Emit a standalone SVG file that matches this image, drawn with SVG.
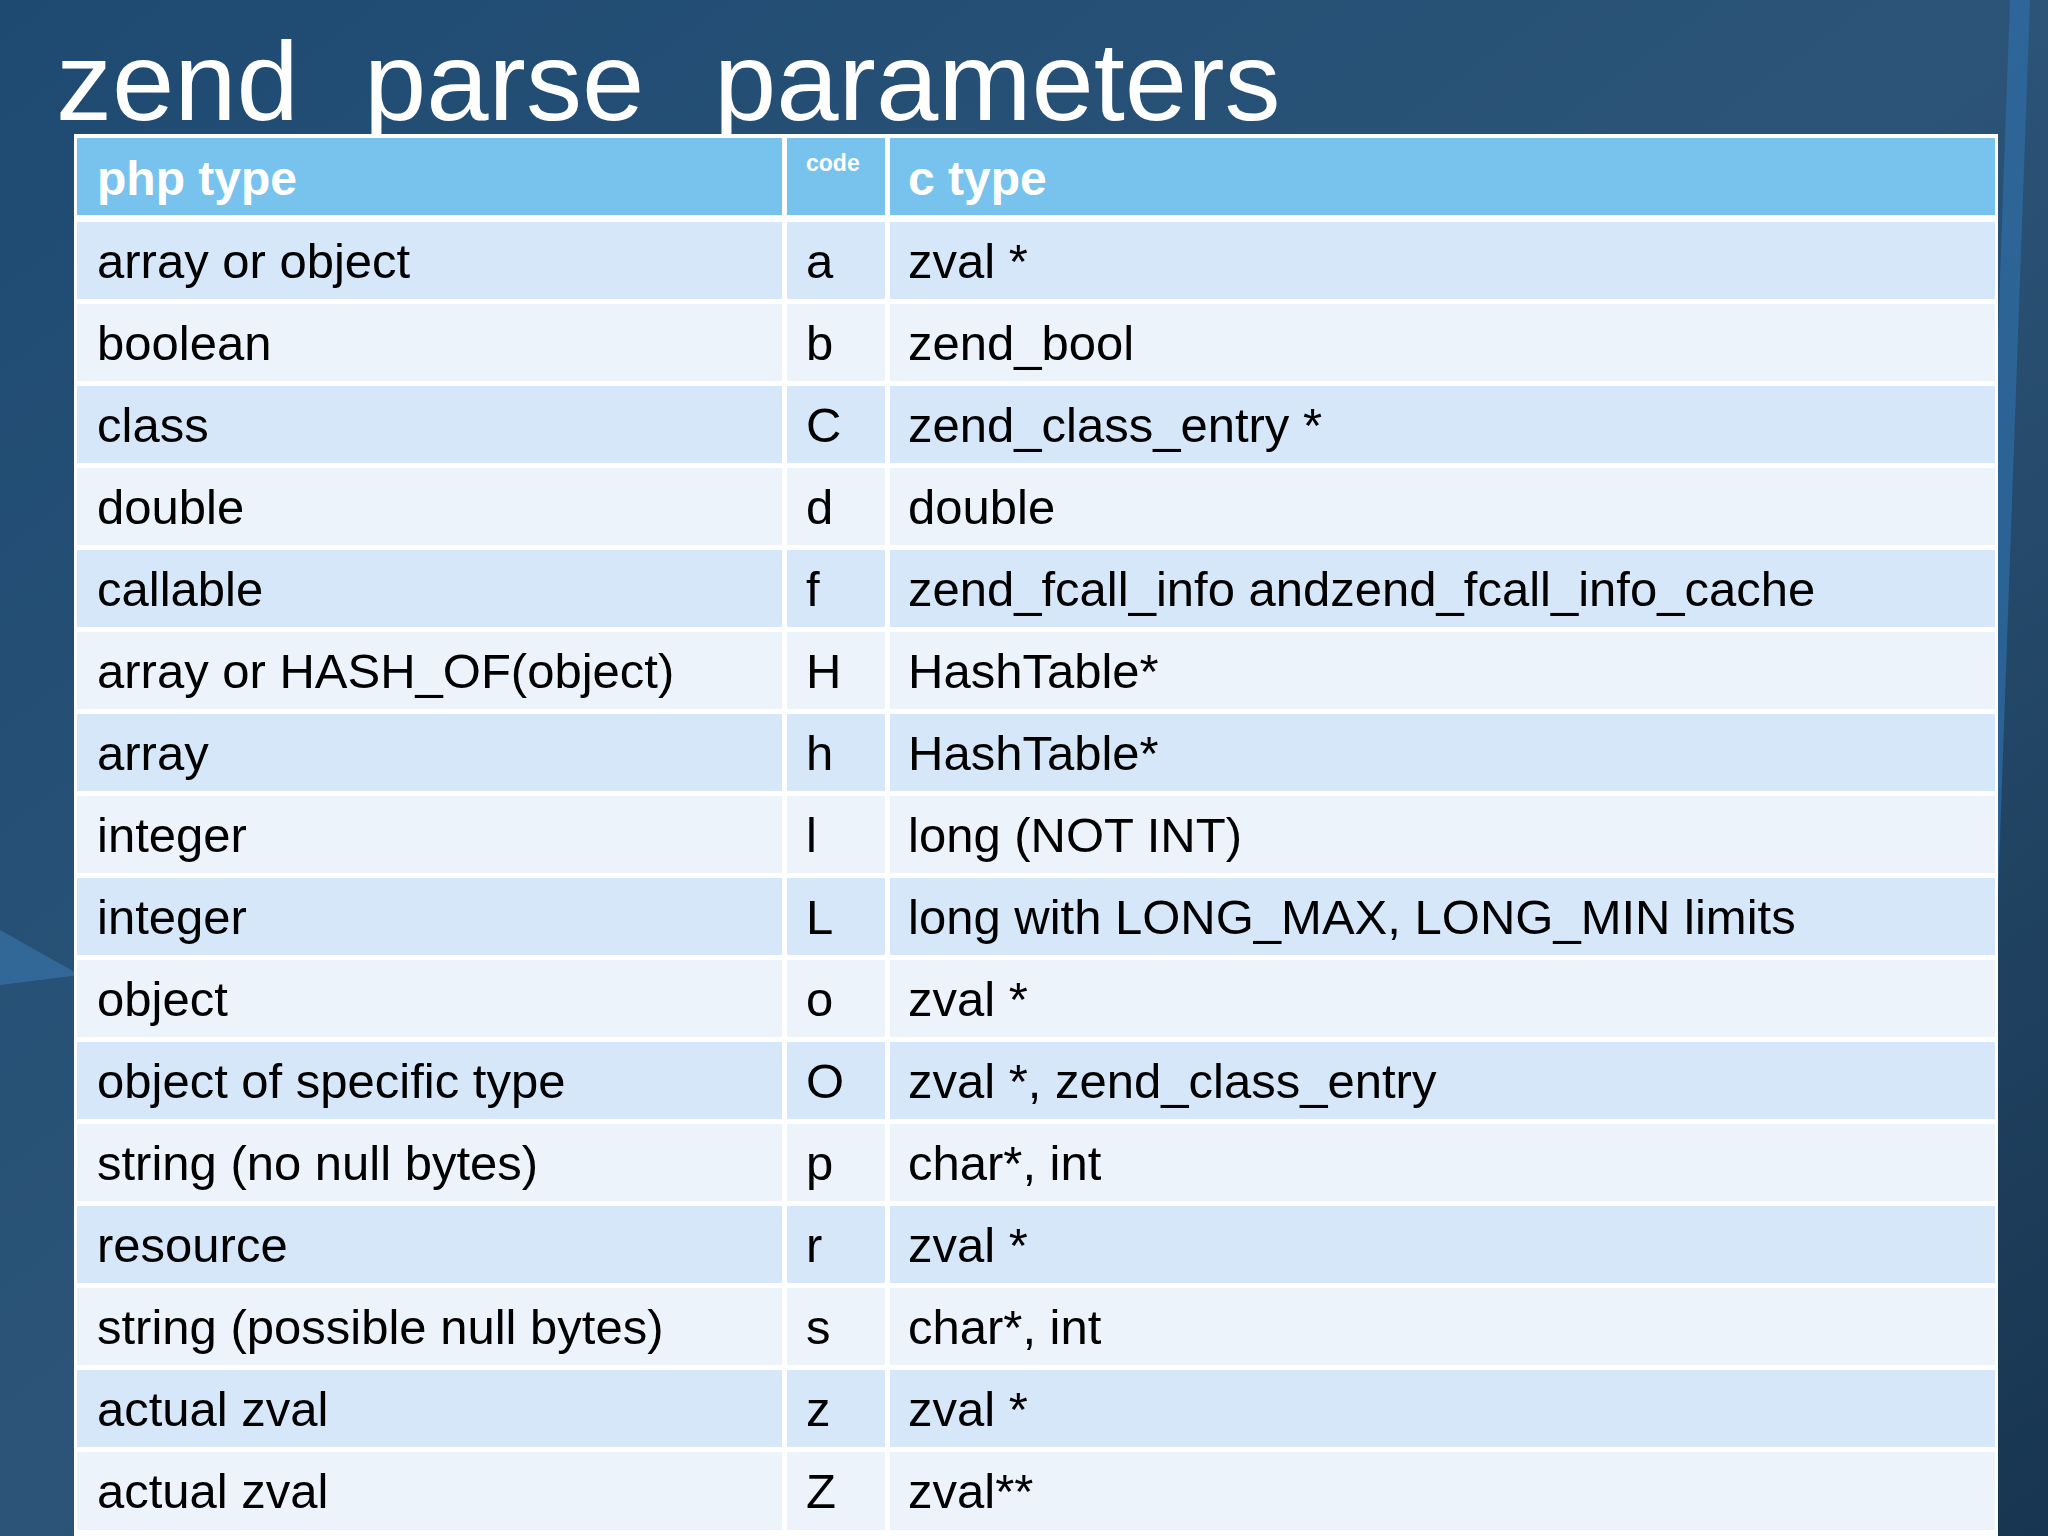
<svg xmlns="http://www.w3.org/2000/svg" width="2048" height="1536" viewBox="0 0 2048 1536">
<defs>
<linearGradient id="bg" x1="0" y1="0" x2="1" y2="1"><stop offset="0" stop-color="#1e4a72"/><stop offset="0.5" stop-color="#2c5478"/><stop offset="1" stop-color="#173550"/></linearGradient>
<style>
.t{font-family:"Liberation Sans",Arial,sans-serif;font-size:49px;fill:#000}
.h{font-family:"Liberation Sans",Arial,sans-serif;font-size:48px;font-weight:bold;fill:#fff}
.odd{fill:#d5e7f8}.even{fill:#edf3fb}
</style>
</defs>
<rect width="2048" height="1536" fill="url(#bg)"/>
<polygon points="2010,0 2030,0 1975,1536 1955,1536" fill="#2f6ea6" opacity="0.7"/>
<polygon points="0,930 80,975 0,985" fill="#3a78ad" opacity="0.6"/>
<g id="title" font-family="'Liberation Sans',Arial,sans-serif" font-size="112" fill="#fff">
<text x="56" y="120">zend</text><text x="364" y="120">parse</text><text x="714" y="120">parameters</text>
</g>
<g id="table">
<rect x="74" y="134" width="1924" height="1402" fill="#fff"/>
<rect x="77" y="138" width="705" height="77" fill="#78c3ee"/>
<rect x="787" y="138" width="98" height="77" fill="#78c3ee"/>
<rect x="890" y="138" width="1105" height="77" fill="#78c3ee"/>
<text class="h" x="97" y="195">php type</text>
<text x="806" y="171" font-family="'Liberation Sans',Arial,sans-serif" font-size="23" font-weight="bold" fill="#fff">code</text>
<text class="h" x="908" y="195">c type</text>
<g id="rows"></g>
</g>
<g id="r1"><rect class="odd" x="77" y="222" width="705" height="77"/><rect class="odd" x="787" y="222" width="98" height="77"/><rect class="odd" x="890" y="222" width="1105" height="77"/><text class="t" x="97" y="278">array or object</text><text class="t" x="806" y="278">a</text><text class="t" x="908" y="278">zval *</text></g>
<g id="r2"><rect class="even" x="77" y="304" width="705" height="77"/><rect class="even" x="787" y="304" width="98" height="77"/><rect class="even" x="890" y="304" width="1105" height="77"/><text class="t" x="97" y="360">boolean</text><text class="t" x="806" y="360">b</text><text class="t" x="908" y="360">zend_bool</text></g>
<g id="r3"><rect class="odd" x="77" y="386" width="705" height="77"/><rect class="odd" x="787" y="386" width="98" height="77"/><rect class="odd" x="890" y="386" width="1105" height="77"/><text class="t" x="97" y="442">class</text><text class="t" x="806" y="442">C</text><text class="t" x="908" y="442">zend_class_entry *</text></g>
<g id="r4"><rect class="even" x="77" y="468" width="705" height="77"/><rect class="even" x="787" y="468" width="98" height="77"/><rect class="even" x="890" y="468" width="1105" height="77"/><text class="t" x="97" y="524">double</text><text class="t" x="806" y="524">d</text><text class="t" x="908" y="524">double</text></g>
<g id="r5"><rect class="odd" x="77" y="550" width="705" height="77"/><rect class="odd" x="787" y="550" width="98" height="77"/><rect class="odd" x="890" y="550" width="1105" height="77"/><text class="t" x="97" y="606">callable</text><text class="t" x="806" y="606">f</text><text class="t" x="908" y="606">zend_fcall_info andzend_fcall_info_cache</text></g>
<g id="r6"><rect class="even" x="77" y="632" width="705" height="77"/><rect class="even" x="787" y="632" width="98" height="77"/><rect class="even" x="890" y="632" width="1105" height="77"/><text class="t" x="97" y="688">array or HASH_OF(object)</text><text class="t" x="806" y="688">H</text><text class="t" x="908" y="688">HashTable*</text></g>
<g id="r7"><rect class="odd" x="77" y="714" width="705" height="77"/><rect class="odd" x="787" y="714" width="98" height="77"/><rect class="odd" x="890" y="714" width="1105" height="77"/><text class="t" x="97" y="770">array</text><text class="t" x="806" y="770">h</text><text class="t" x="908" y="770">HashTable*</text></g>
<g id="r8"><rect class="even" x="77" y="796" width="705" height="77"/><rect class="even" x="787" y="796" width="98" height="77"/><rect class="even" x="890" y="796" width="1105" height="77"/><text class="t" x="97" y="852">integer</text><text class="t" x="806" y="852">l</text><text class="t" x="908" y="852">long (NOT INT)</text></g>
<g id="r9"><rect class="odd" x="77" y="878" width="705" height="77"/><rect class="odd" x="787" y="878" width="98" height="77"/><rect class="odd" x="890" y="878" width="1105" height="77"/><text class="t" x="97" y="934">integer</text><text class="t" x="806" y="934">L</text><text class="t" x="908" y="934">long with LONG_MAX, LONG_MIN limits</text></g>
<g id="r10"><rect class="even" x="77" y="960" width="705" height="77"/><rect class="even" x="787" y="960" width="98" height="77"/><rect class="even" x="890" y="960" width="1105" height="77"/><text class="t" x="97" y="1016">object</text><text class="t" x="806" y="1016">o</text><text class="t" x="908" y="1016">zval *</text></g>
<g id="r11"><rect class="odd" x="77" y="1042" width="705" height="77"/><rect class="odd" x="787" y="1042" width="98" height="77"/><rect class="odd" x="890" y="1042" width="1105" height="77"/><text class="t" x="97" y="1098">object of specific type</text><text class="t" x="806" y="1098">O</text><text class="t" x="908" y="1098">zval *, zend_class_entry</text></g>
<g id="r12"><rect class="even" x="77" y="1124" width="705" height="77"/><rect class="even" x="787" y="1124" width="98" height="77"/><rect class="even" x="890" y="1124" width="1105" height="77"/><text class="t" x="97" y="1180">string (no null bytes)</text><text class="t" x="806" y="1180">p</text><text class="t" x="908" y="1180">char*, int</text></g>
<g id="r13"><rect class="odd" x="77" y="1206" width="705" height="77"/><rect class="odd" x="787" y="1206" width="98" height="77"/><rect class="odd" x="890" y="1206" width="1105" height="77"/><text class="t" x="97" y="1262">resource</text><text class="t" x="806" y="1262">r</text><text class="t" x="908" y="1262">zval *</text></g>
<g id="r14"><rect class="even" x="77" y="1288" width="705" height="77"/><rect class="even" x="787" y="1288" width="98" height="77"/><rect class="even" x="890" y="1288" width="1105" height="77"/><text class="t" x="97" y="1344">string (possible null bytes)</text><text class="t" x="806" y="1344">s</text><text class="t" x="908" y="1344">char*, int</text></g>
<g id="r15"><rect class="odd" x="77" y="1370" width="705" height="77"/><rect class="odd" x="787" y="1370" width="98" height="77"/><rect class="odd" x="890" y="1370" width="1105" height="77"/><text class="t" x="97" y="1426">actual zval</text><text class="t" x="806" y="1426">z</text><text class="t" x="908" y="1426">zval *</text></g>
<g id="r16"><rect class="even" x="77" y="1452" width="705" height="78"/><rect class="even" x="787" y="1452" width="98" height="78"/><rect class="even" x="890" y="1452" width="1105" height="78"/><text class="t" x="97" y="1508">actual zval</text><text class="t" x="806" y="1508">Z</text><text class="t" x="908" y="1508">zval**</text></g>
<g id="connectors"/>
</svg>
